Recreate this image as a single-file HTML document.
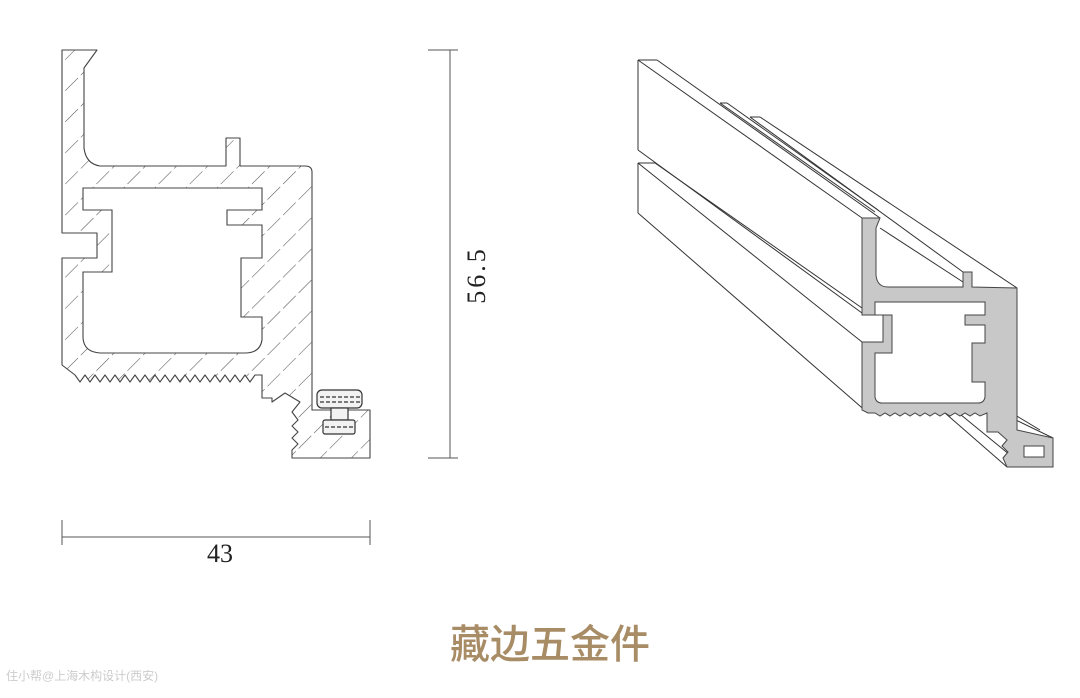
<!DOCTYPE html>
<html><head><meta charset="utf-8"><style>
html,body{margin:0;padding:0;background:#fff;}
body{width:1080px;height:698px;position:relative;overflow:hidden;}
</style></head><body>
<svg width="1080" height="698" viewBox="0 0 1080 698" xmlns="http://www.w3.org/2000/svg" style="position:absolute;left:0;top:0">
<defs>
<pattern id="h" width="22" height="22" patternUnits="userSpaceOnUse" patternTransform="rotate(45)">
<line x1="0" y1="0" x2="0" y2="22" stroke="#555" stroke-width="1.1" stroke-dasharray="18 4"/>
</pattern>
</defs>
<g stroke="#444" stroke-width="1.1" fill="url(#h)" stroke-linejoin="round">
<path d="M62,50 L97,50 L84,68 L84,148 Q86,164 100,166 L226,166 L226,138 L240,138 L240,166 L305,166 Q312,166 312,172 L312,410 L370,410 L370,458 L292,458 L292,450 L298,444 L292,438 L298,432 L292,426 L298,420 L292,412 L300,402 L285,393 L272,402 L272,398 L262,398 L262,375 L255,375 L250,382 L245,375 L240,382 L235,375 L230,382 L225,375 L220,382 L215,375 L210,382 L205,375 L200,382 L195,375 L190,382 L185,375 L180,382 L175,375 L170,382 L165,375 L160,382 L155,375 L150,382 L145,375 L140,382 L135,375 L130,382 L125,375 L120,382 L115,375 L110,382 L105,375 L100,382 L95,375 L90,382 L85,375 L80,382 L75,375 L62,365 L62,258 L97,258 L97,233 L62,233 Z"/>
</g>
<path d="M83,188 L262,188 L262,210 L227,210 L227,225 L262,225 L262,258 L241,258 L241,317 L262,317 L262,340 Q260,353 245,353 L100,353 Q84,352 83,338 L83,272 L112,272 L112,210 L83,210 Z" fill="#fff" stroke="#444" stroke-width="1.1"/>
<g stroke="#333" fill="#f2f2f2" stroke-width="1.2">
<rect x="317" y="390" width="45" height="18" rx="5"/>
<rect x="331" y="408" width="17" height="12"/>
<rect x="323" y="420" width="32" height="14" rx="2"/>
<line x1="320" y1="397" x2="360" y2="397" stroke-dasharray="4 2"/>
<line x1="320" y1="402" x2="360" y2="402" stroke-dasharray="4 2"/>
<line x1="325" y1="427" x2="353" y2="427" stroke-dasharray="4 2"/>
</g>
<g stroke="#555" stroke-width="1" fill="none">
<line x1="450" y1="50" x2="450" y2="458"/>
<line x1="428" y1="50" x2="458" y2="50"/><line x1="428" y1="458" x2="458" y2="458"/>
<line x1="62" y1="537" x2="370" y2="537"/>
<line x1="62" y1="520" x2="62" y2="545"/><line x1="370" y1="520" x2="370" y2="545"/>
</g>
<text x="220" y="562" font-family="Liberation Serif, serif" font-size="26" text-anchor="middle" fill="#222">43</text>
<text transform="translate(485,275) rotate(-90)" font-family="Liberation Serif, serif" font-size="26" text-anchor="middle" fill="#222" letter-spacing="3">56.5</text>
<g stroke="#333" stroke-width="1" fill="none">
<line x1="638" y1="60" x2="638" y2="150"/>
<line x1="638" y1="163" x2="638" y2="213"/>
<line x1="638" y1="60" x2="657" y2="60"/>
<line x1="638" y1="60" x2="862" y2="218"/>
<line x1="657" y1="60" x2="880" y2="218"/>
<line x1="638" y1="150" x2="862" y2="313"/>
<line x1="638" y1="163" x2="862" y2="342"/>
<line x1="655" y1="163" x2="862" y2="308"/>
<line x1="638" y1="163" x2="655" y2="163"/>
<line x1="638" y1="213" x2="868" y2="413"/>
<line x1="720" y1="103" x2="727" y2="103"/>
<line x1="750" y1="117" x2="760" y2="117"/>
<line x1="720" y1="103" x2="875" y2="212"/>
<line x1="727" y1="103" x2="878" y2="210"/>
<line x1="750" y1="117" x2="963" y2="272"/>
<line x1="760" y1="117" x2="1017" y2="288"/>
<line x1="880" y1="228" x2="963" y2="282"/>
<line x1="945" y1="413" x2="1007" y2="467"/>
<line x1="955" y1="410" x2="1010" y2="455"/>
<line x1="985" y1="405" x2="1053" y2="438"/>
<line x1="990" y1="400" x2="1040" y2="430"/>
</g>
<path d="M862,218 L880,218 L876,228 L876,275 Q877,287 888,287 L963,287 L963,272 L972,272 L972,287 L1017,288 L1017,430 L1053,438 L1053,467 L1007,467 L1003,458 L1008,452 L1002,446 L1007,440 L998,432 L987,432 L987,413 L980,416 L975,413 L970,416 L965,413 L960,416 L955,413 L950,416 L945,413 L940,416 L935,413 L930,416 L925,413 L920,416 L915,413 L910,416 L905,413 L900,416 L895,413 L890,416 L885,413 L880,416 L875,413 L868,413 L862,410 L862,342 L883,342 L883,315 L862,315 Z" fill="#c8c8c8" stroke="#444" stroke-width="1"/>
<path d="M875,302 L985,302 L985,315 L965,315 L965,325 L985,325 L985,343 L972,343 L972,382 L985,382 L985,397 Q984,403 978,403 L882,403 Q876,403 875,397 L875,353 L892,353 L892,315 L875,315 Z" fill="#fff" stroke="#444" stroke-width="1"/>
<rect x="1024" y="446" width="20" height="11" fill="#fff" stroke="#444" stroke-width="1"/>
<text x="550" y="658" font-family="Liberation Sans, Noto Sans CJK SC, sans-serif" font-size="40" text-anchor="middle" fill="#a88c66" font-weight="500">藏边五金件</text>
<text x="6" y="680" font-family="Liberation Sans, Noto Sans CJK SC, sans-serif" font-size="12" fill="#ccc">住小帮@上海木构设计(西安)</text>
</svg>
</body></html>
